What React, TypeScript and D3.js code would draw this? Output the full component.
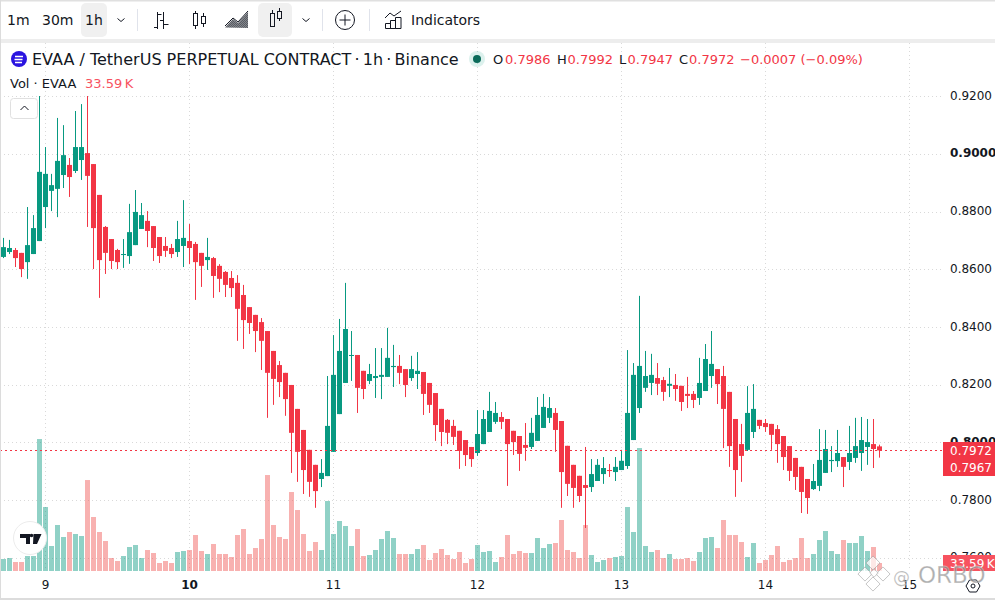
import * as d3 from 'd3';

// hourly candles, oldest first
const opens = [
  .8643, .8660, .8667, .8657, .8625, .8653, .8698, .8816, .8872, .8879, .8927, .8962, .8941, .8979, .9003, .8965, .8858, .8747, .8705, .8667,
  .8650, .8646, .8684, .8740, .8768, .8750, .8712, .8681, .8674, .8660, .8681, .8698, .8688, .8657, .8632, .8639, .8612, .8591, .8570, .8553,
  .8511, .8469, .8442, .8417, .8386, .8317, .8268, .8241, .8199, .8116, .8043, .7974, .7922, .7873, .7883, .7967, .8098, .8206, .8300, .8303,
  .8248, .8213, .8223, .8227, .8227, .8261, .8265, .8254, .8223, .8237, .8244, .8206, .8171, .8116, .8078, .8057, .8040, .8008, .7984, .7963,
  .7994, .8036, .8071, .8088, .8081, .8040, .8022, .7991, .7984, .8005, .8050, .8085, .8102, .8074, .7988, .7922, .7884, .7852, .7845, .7866,
  .7890, .7904, .7897, .7904, .7918, .8008, .8119, .8189, .8206, .8223, .8216, .8196, .8199, .8196, .8168, .8168, .8154, .8178, .8230, .8254,
  .8230, .8175, .8081, .7994, .7974, .8036, .8078, .8067, .8064, .8046, .8022, .7987, .7946, .7915, .7873, .7838, .7849, .7894, .7935, .7935,
  .7949, .7932, .7946, .7963, .7984, .7994, .7986,
];
const highs = [
  .8709, .8702, .8674, .8657, .8816, .8788, .9201, .9024, .8931, .9125, .9100, .8986, .9149, .9173, .9201, .8965, .8858, .8750, .8705, .8671,
  .8705, .8827, .8875, .8830, .8802, .8750, .8712, .8712, .8688, .8768, .8840, .8757, .8695, .8657, .8709, .8643, .8618, .8594, .8594, .8580,
  .8546, .8469, .8442, .8431, .8386, .8317, .8282, .8241, .8199, .8116, .8043, .7974, .7922, .7942, .8230, .8372, .8428, .8553, .8386, .8303,
  .8248, .8272, .8327, .8327, .8397, .8338, .8303, .8254, .8300, .8313, .8244, .8206, .8171, .8116, .8081, .8078, .8040, .8008, .7984, .8112,
  .8112, .8175, .8140, .8105, .8081, .8040, .8022, .8067, .8085, .8157, .8168, .8157, .8119, .8074, .7988, .7922, .7884, .7984, .7942, .7942,
  .7949, .7925, .7949, .7974, .8320, .8275, .8508, .8317, .8307, .8275, .8227, .8258, .8237, .8196, .8227, .8178, .8293, .8341, .8386, .8254,
  .8265, .8175, .8081, .8064, .8195, .8202, .8078, .8081, .8064, .8060, .8022, .7987, .7946, .7915, .7873, .7925, .8046, .8043, .7987, .8043,
  .7949, .8057, .8085, .8088, .8081, .8081, .7992,
];
const lows = [
  .8639, .8653, .8608, .8573, .8567, .8653, .8698, .8743, .8802, .8781, .8882, .8851, .8934, .8910, .8747, .8601, .8501, .8584, .8601, .8601,
  .8605, .8619, .8684, .8740, .8677, .8629, .8622, .8643, .8639, .8643, .8608, .8618, .8494, .8539, .8598, .8501, .8521, .8504, .8504, .8352,
  .8324, .8376, .8313, .8251, .8085, .8130, .8157, .8092, .7894, .7863, .7821, .7811, .7773, .7845, .7883, .7967, .8098, .8206, .8213, .8102,
  .8150, .8202, .8154, .8150, .8227, .8192, .8202, .8157, .8213, .8185, .8095, .8102, .8005, .7987, .7994, .7991, .7908, .7918, .7915, .7953,
  .7994, .8036, .8064, .8046, .7849, .7956, .7901, .7936, .7977, .8005, .8050, .8067, .7967, .7773, .7814, .7773, .7793, .7703, .7828, .7866,
  .7856, .7880, .7866, .7904, .7908, .8008, .8102, .8175, .8164, .8164, .8144, .8157, .8144, .8109, .8119, .8119, .8130, .8178, .8189, .8133,
  .7980, .7915, .7811, .7863, .7970, .8015, .8046, .8036, .7974, .7929, .7904, .7866, .7835, .7755, .7752, .7835, .7831, .7894, .7897, .7915,
  .7845, .7904, .7929, .7901, .7922, .7911, .7947,
];
const closes = [
  .8677, .8674, .8639, .8601, .8684, .8743, .8938, .8931, .8892, .8976, .8996, .8920, .9024, .9024, .8924, .8743, .8632, .8657, .8629, .8625,
  .8653, .8729, .8799, .8788, .8733, .8674, .8646, .8664, .8653, .8705, .8709, .8674, .8625, .8612, .8643, .8577, .8567, .8546, .8535, .8463,
  .8424, .8414, .8386, .8352, .8241, .8220, .8209, .8150, .8033, .7967, .7904, .7863, .7831, .7894, .8057, .8234, .8317, .8393, .8303, .8189,
  .8185, .8237, .8230, .8234, .8293, .8265, .8241, .8199, .8254, .8248, .8168, .8130, .8060, .8036, .8033, .8019, .7970, .7956, .7942, .8029,
  .8081, .8109, .8102, .8071, .7994, .8001, .7960, .7981, .8033, .8095, .8123, .8119, .8043, .7897, .7856, .7842, .7814, .7842, .7890, .7922,
  .7911, .7901, .7915, .7936, .8102, .8234, .8265, .8230, .8234, .8203, .8175, .8203, .8185, .8140, .8161, .8147, .8206, .8289, .8272, .8202,
  .8116, .7987, .7904, .7953, .8102, .8116, .8057, .8053, .8026, .7994, .7949, .7901, .7880, .7828, .7807, .7866, .7939, .7977, .7939, .7963,
  .7915, .7963, .7987, .8008, .8001, .7977, .7972,
];
// volume in thousands
const volumes = [
  50.4, 54.6, 37.8, 37.8, 63, 63, 554.4, 268.8, 105, 193.2, 142.8, 163.8, 155.4, 147, 382.2, 226.8, 163.8, 126, 54.6, 42,
  63, 100.8, 109.2, 54.6, 88.2, 75.6, 33.6, 42, 33.6, 79.8, 84, 88.2, 151.2, 84, 71.4, 113.4, 71.4, 71.4, 58.8, 151.2,
  176.4, 71.4, 96.6, 134.4, 403.2, 193.2, 142.8, 134.4, 331.8, 256.2, 155.4, 84, 121.8, 88.2, 294, 155.4, 210, 189, 105, 176.4,
  63, 67.2, 88.2, 134.4, 168, 138.6, 71.4, 71.4, 71.4, 92.4, 109.2, 46.2, 75.6, 92.4, 67.2, 50.4, 79.8, 33.6, 50.4, 109.2,
  79.8, 84, 37.8, 58.8, 151.2, 71.4, 84, 75.6, 75.6, 138.6, 96.6, 113.4, 117.6, 214.2, 88.2, 79.8, 54.6, 193.2, 67.2, 37.8,
  46.2, 54.6, 58.8, 63, 268.8, 163.8, 516.6, 105, 79.8, 88.2, 54.6, 71.4, 50.4, 50.4, 54.6, 42, 79.8, 138.6, 142.8, 96.6,
  214.2, 151.2, 151.2, 121.8, 58.8, 117.6, 33.6, 46.2, 67.2, 105, 37.8, 46.2, 54.6, 138.6, 54.6, 71.4, 130.2, 168, 84, 71.4,
  130.2, 117.6, 117.6, 147, 84, 100.8, 33.59,
];

const priceTicks = [0.92, 0.9, 0.88, 0.86, 0.84, 0.82, 0.8, 0.78, 0.76];
const boldPrices = [0.9, 0.8];
const dayLabels = ['9', '10', '11', '12', '13', '14', '15'];
const dayIndex = [7, 31, 55, 79, 103, 127, 151];

const UP = '#089981';
const DOWN = '#f23645';
const INK = '#131722';
const GRID = '#d9d9d9';
const FONT = '"DejaVu Sans", sans-serif';

const x = d3.scaleLinear().domain([0, 146]).range([3.5, 879.5]);
const y = d3.scaleLinear().domain([0.76, 0.92]).range([557.7, 96.3]);
const yVol = d3.scaleLinear().domain([0, 560]).range([571, 437.7]);
const fmtPrice = d3.format('.4f');

const BODY = 5;

function Toolbar() {
  return (
    <g fill="none" stroke={INK} strokeWidth={1} style={{ fontFamily: FONT }}>
      <rect x={0} y={0} width={995} height={1.5} fill="#e0e0e0" stroke="none" />
      <rect x={0} y={39} width={995} height={4} fill="#ededed" stroke="none" />
      <rect x={81} y={3} width={26} height={34} rx={5} fill="#f0f0f0" stroke="none" />
      <rect x={258} y={3} width={34} height={34} rx={5} fill="#f0f0f0" stroke="none" />
      <g fill={INK} stroke="none" fontSize={14}>
        <text x={7} y={25}>1m</text>
        <text x={42} y={25}>30m</text>
        <text x={85} y={25}>1h</text>
        <text x={411} y={25}>Indicators</text>
      </g>
      <path d="M117.5 18.5l3.5 3 3.5-3M302.5 18.5l3.5 3 3.5-3" />
      <path d="M137.5 9v22M322.5 9v22M369.5 9v22" stroke="#e0e3eb" />
      {/* bars */}
      <path d="M157.5 12v17M154 27.5h3.5M157.5 14.5h4M163.5 12v17M160 20.5h3.5M163.5 24.5h5" />
      {/* candles */}
      <path d="M195.5 11v18M203.5 13v14" />
      <rect x={193.5} y={13.5} width={4} height={12} fill="#fff" />
      <rect x={201.5} y={16.5} width={4} height={7} fill="#fff" />
      {/* area */}
      <defs>
        <pattern id="hatch" width={2} height={2} patternUnits="userSpaceOnUse">
          <rect width={1} height={1} fill={INK} />
          <rect x={1} y={1} width={1} height={1} fill={INK} />
        </pattern>
      </defs>
      <path d="M225 27.5L233 19l5 4 10-11v16z" fill="url(#hatch)" fillOpacity={0.7} stroke="none" />
      <path d="M225 26L233 18l5 4 10-11" />
      {/* hollow candles */}
      <path d="M272.5 10v3M279.5 8v3M279.5 18v3" />
      <rect x={270.5} y={13.5} width={4} height={13} />
      <rect x={277.5} y={11.5} width={4} height={7} />
      {/* add */}
      <circle cx={345} cy={20} r={9.5} />
      <path d="M345 14.5v11M339.5 20h11" />
      {/* indicators */}
      <path d="M385 18l5-5 4 3 7-5M385.5 28.5v-5h5v5zM390.5 28.5v-8h5v8zM395.5 28.5v-11h5.500v11z" />
    </g>
  );
}

function Legend() {
  const vals = [
    { k: 'O', kx: 493, v: '0.7986', vx: 505 },
    { k: 'H', kx: 557, v: '0.7992', vx: 567.5 },
    { k: 'L', kx: 619, v: '0.7947', vx: 627.5 },
    { k: 'C', kx: 679, v: '0.7972', vx: 689 },
  ];
  return (
    <g style={{ fontFamily: FONT }}>
      <circle cx={19} cy={59} r={8} fill="#2a14e0" />
      <path d="M15 56.500h8M14.500 59.500h8M15 62.500h7" stroke="#fff" strokeWidth={1.5} />
      <text x={32} y={65} fontSize={16} fill={INK}>EVAA / TetherUS PERPETUAL CONTRACT{'\u2009·\u20091h\u2009·\u2009'}Binance</text>
      <circle cx={477} cy={59} r={8} fill={UP} fillOpacity={0.14} />
      <circle cx={477} cy={59} r={4} fill="#0b6b5a" />
      <g fontSize={13}>
        {vals.map(d => (
          <g key={d.k}>
            <text x={d.kx} y={64} fill={INK}>{d.k}</text>
            <text x={d.vx} y={64} fill={DOWN}>{d.v}</text>
          </g>
        ))}
        <text x={740} y={64} fill={DOWN}>−0.0007 (−0.09%)</text>
        <text x={10} y={88} fill={INK}>Vol · EVAA</text>
        <text x={85} y={88} fill="#f7525f">{'33.59\u2009K'}</text>
      </g>
      <rect x={10.5} y={98.5} width={27} height={20} rx={3} fill="#fff" stroke="#e0e0e0" />
      <path d="M20.500 110l4-4 4 4" fill="none" stroke={INK} />
    </g>
  );
}

function Grid() {
  return (
    <g stroke={GRID} strokeWidth={1} strokeDasharray="1 3">
      {priceTicks.map(p => (
        <line key={p} x1={0} x2={941} y1={Math.round(y(p)) + 0.5} y2={Math.round(y(p)) + 0.5} />
      ))}
      {dayIndex.map(i => (
        <line key={i} x1={Math.floor(x(i)) + 0.5} x2={Math.floor(x(i)) + 0.5} y1={43} y2={571} />
      ))}
    </g>
  );
}

function Volumes() {
  return (
    <g>
      {volumes.map((v, i) => (
        <rect
          key={i}
          x={x(i) - BODY / 2}
          y={yVol(v)}
          width={BODY}
          height={yVol(0) - yVol(v)}
          fill={closes[i] >= opens[i] ? UP : '#ef5350'}
          fillOpacity={0.45}
        />
      ))}
    </g>
  );
}

function Candles() {
  return (
    <g>
      {opens.map((o, i) => {
        const c = closes[i];
        const color = c >= o ? UP : DOWN;
        const top = y(Math.max(o, c));
        return (
          <g key={i} fill={color}>
            <rect x={x(i) - 0.5} y={y(highs[i])} width={1} height={y(lows[i]) - y(highs[i])} />
            <rect x={x(i) - BODY / 2} y={top} width={BODY} height={Math.max(1, y(Math.min(o, c)) - top)} />
          </g>
        );
      })}
    </g>
  );
}

function Axes() {
  const last = closes[closes.length - 1];
  const lastY = y(last);
  return (
    <g style={{ fontFamily: FONT }} fontSize={12}>
      <line x1={0} x2={943} y1={Math.round(lastY) + 0.5} y2={Math.round(lastY) + 0.5} stroke={DOWN} strokeDasharray="2 3" />
      {priceTicks.map(p => (
        <text
          key={p}
          x={950}
          y={y(p) + 3.5}
          fill={INK}
          fontWeight={boldPrices.includes(p) ? 700 : 400}
        >
          {fmtPrice(p)}
        </text>
      ))}
      {dayLabels.map((d, i) => (
        <text
          key={d}
          x={x(dayIndex[i])}
          y={589}
          textAnchor="middle"
          fill={INK}
          fontWeight={d === '10' ? 700 : 400}
        >
          {d}
        </text>
      ))}
      <rect x={943} y={442} width={52} height={34} fill={DOWN} />
      <text x={950} y={455} fill="#fff">{fmtPrice(last)}</text>
      <text x={950} y={472} fill="#fff">0.7967</text>
      <rect x={943} y={555} width={52} height={16} fill="#f7525f" />
      <text x={950} y={568} fill="#fff">{'33.59\u2009K'}</text>
    </g>
  );
}

function Chrome() {
  return (
    <g>
      <rect x={0} y={0} width={1} height={600} fill="#dcdcdc" />
      <rect x={0} y={598} width={995} height={2} fill="#dcdcdc" />
      {/* tv badge */}
      <circle cx={30} cy={538} r={16.5} fill="#fff" stroke="#ececec" strokeWidth={1} />
      <path d="M20 534h10v10h-4v-6h-6zM33.500 534h8l-4.500 10h-4z" fill="#131722" />
      <circle cx={31.500} cy={535.500} r={1.800} fill="#131722" />
      {/* settings */}
      <path d="M966 586l3.500-6h7l3.500 6-3.500 6h-7z" fill="none" stroke={INK} strokeWidth={1} />
      <circle cx={973} cy={586} r={2} fill="none" stroke={INK} />
    </g>
  );
}

function Watermark() {
  const centers = [[873, 563, 5], [865, 574, 5], [883, 574, 5], [873, 584, 5], [874, 573, 3]];
  return (
    <g style={{ fontFamily: FONT }} fill="#888888" fillOpacity={0.7} stroke="#fff" strokeOpacity={0.4} strokeWidth={0.8}>
      {centers.map(([cx, cy, r], i) => (
        <rect
          key={i}
          x={cx - r}
          y={cy - r}
          width={r * 2}
          height={r * 2}
          transform={`rotate(45 ${cx} ${cy})`}
          fill="#fff"
          fillOpacity={0.7}
          stroke="#8f8f8f"
          strokeOpacity={0.6}
        />
      ))}
      <text x={893} y={583} fontSize={17}>@</text>
      <text x={918} y={583} fontSize={23}>ORBO</text>
    </g>
  );
}

export default function App() {
  return (
    <svg
      width={995}
      height={600}
      style={{ position: 'absolute', left: 0, top: 0, display: 'block', background: '#fff' }}
    >
      <Grid />
      <Volumes />
      <Candles />
      <Axes />
      <Legend />
      <Toolbar />
      <Chrome />
      <Watermark />
    </svg>
  );
}
